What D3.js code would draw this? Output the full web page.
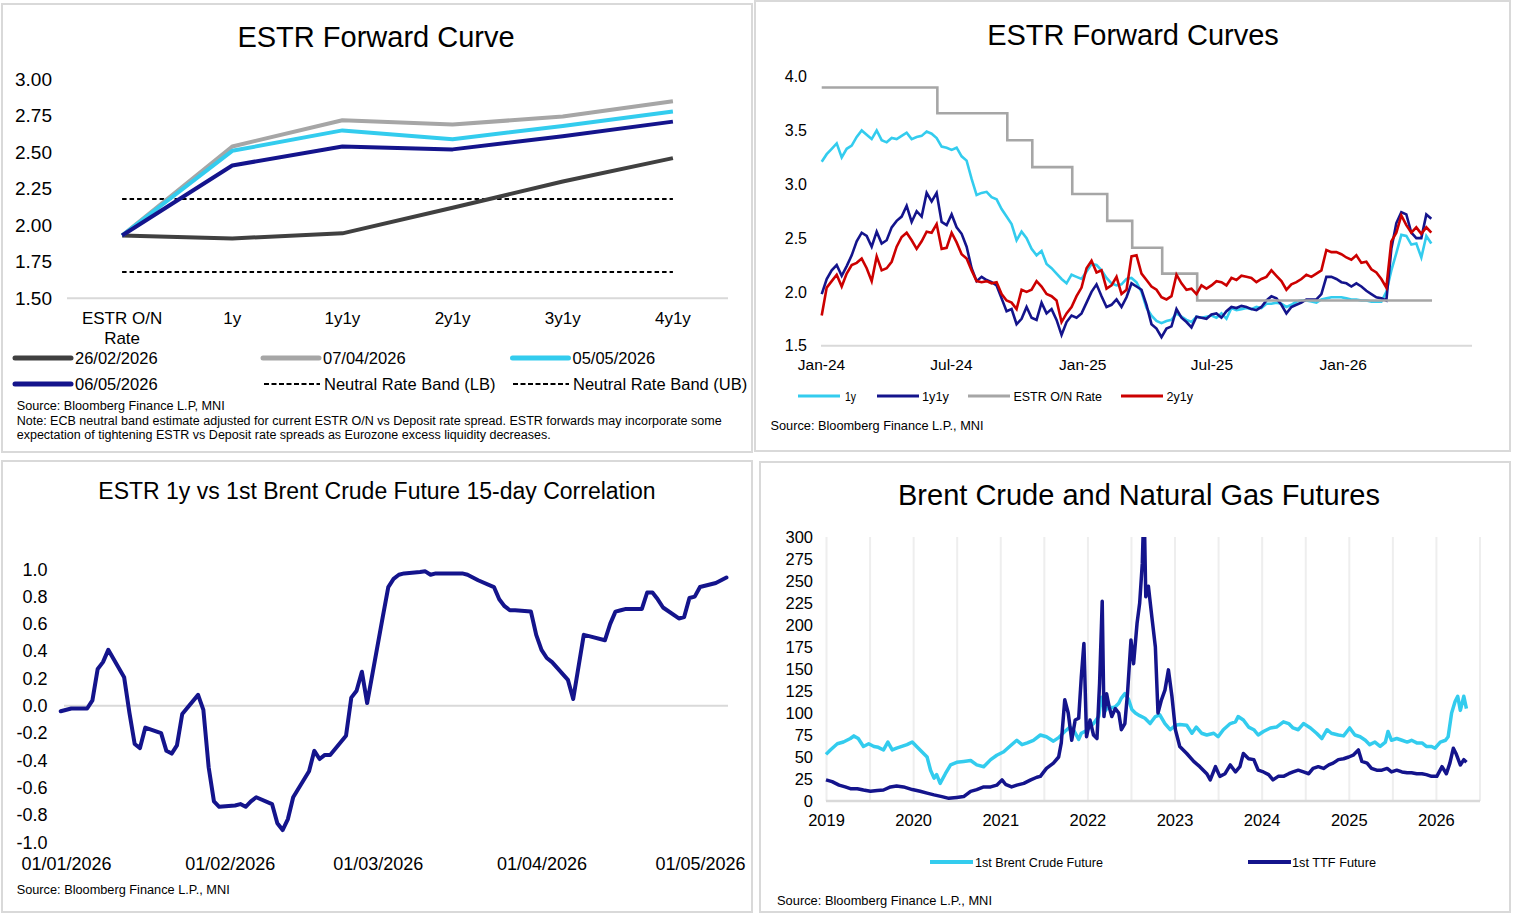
<!DOCTYPE html>
<html><head><meta charset="utf-8">
<script src="https://cdn.jsdelivr.net/npm/d3@7"></script>
<style>
body{margin:0;background:#fff}
svg text{font-family:"Liberation Sans",Arial,sans-serif;fill:#000}
.narrow{font-family:"Liberation Sans Narrow","Arial Narrow","Liberation Sans",Arial,sans-serif !important}
</style>
</head><body>
<svg id="c" width="1518" height="914"></svg>
<script>
// ---------------- DATA ----------------
// Panel 1: ESTR Forward Curve
const curveCats = ["ESTR O/N Rate","1y","1y1y","2y1y","3y1y","4y1y"];
const curve260226 = [1.93,1.91,1.945,2.12,2.30,2.46];
const curve070426 = [1.93,2.54,2.72,2.69,2.745,2.85];
const curve050526 = [1.93,2.51,2.65,2.59,2.68,2.78];
const curve060526 = [1.93,2.41,2.54,2.52,2.61,2.71];
const neutralLB = 1.68, neutralUB = 2.18;
const curveTicks = [1.5,1.75,2.0,2.25,2.5,2.75,3.0];

// Panel 2: ESTR Forward Curves (weekly observations from 2 Jan 2024)
const fwdStart = "2024-01-02";
const fwd1y = [3.21,3.28,3.33,3.38,3.25,3.33,3.36,3.44,3.50,3.46,
3.42,3.50,3.41,3.39,3.43,3.42,3.45,3.48,3.42,3.44,
3.45,3.49,3.47,3.43,3.35,3.34,3.32,3.34,3.26,3.22,
3.05,2.90,2.92,2.93,2.88,2.86,2.77,2.70,2.63,2.48,
2.56,2.50,2.40,2.34,2.38,2.26,2.22,2.17,2.12,2.08,
2.16,2.14,2.12,2.19,2.26,2.25,2.20,2.13,2.08,2.06,
2.07,2.12,2.13,2.09,2.00,1.85,1.78,1.73,1.71,1.73,
1.74,1.80,1.77,1.74,1.72,1.77,1.76,1.77,1.78,1.76,
1.80,1.75,1.85,1.83,1.84,1.85,1.84,1.86,1.85,1.89,
1.89,1.90,1.89,1.86,1.88,1.91,1.92,1.92,1.91,1.90,
1.93,1.94,1.95,1.95,1.95,1.94,1.93,1.93,1.92,1.92,
1.91,1.91,1.91,2.00,2.20,2.36,2.53,2.52,2.44,2.45,
2.32,2.52,2.45];
const fwd1y1y = [1.98,2.12,2.20,2.25,2.15,2.24,2.34,2.47,2.55,2.52,
2.42,2.56,2.45,2.48,2.60,2.66,2.70,2.80,2.65,2.75,
2.70,2.92,2.84,2.92,2.65,2.62,2.72,2.60,2.54,2.42,
2.22,2.10,2.14,2.11,2.09,2.06,1.94,1.82,1.84,1.70,
1.75,1.86,1.76,1.74,1.90,1.80,1.84,1.74,1.60,1.72,
1.78,1.76,1.80,1.90,2.00,2.07,1.96,1.86,1.88,1.93,
1.86,1.95,2.08,2.05,2.02,1.88,1.70,1.66,1.58,1.66,
1.68,1.84,1.76,1.72,1.67,1.77,1.76,1.75,1.79,1.80,
1.76,1.82,1.86,1.85,1.87,1.86,1.84,1.83,1.86,1.92,
1.96,1.94,1.88,1.80,1.86,1.88,1.90,1.93,1.93,1.93,
1.98,2.14,2.14,2.12,2.09,2.08,2.05,2.08,2.05,2.01,
1.98,1.95,1.94,1.92,2.40,2.64,2.74,2.72,2.55,2.50,
2.50,2.72,2.68];
const fwd2y1y = [1.78,2.04,2.10,2.16,2.05,2.17,2.25,2.27,2.31,2.22,
2.10,2.33,2.20,2.22,2.28,2.42,2.51,2.55,2.48,2.40,
2.47,2.56,2.55,2.63,2.40,2.41,2.55,2.46,2.35,2.31,
2.20,2.10,2.09,2.10,2.08,2.09,1.98,1.92,1.90,1.84,
2.02,2.00,2.02,2.10,2.05,1.98,1.96,1.92,1.72,1.80,
1.86,1.96,2.04,2.22,2.29,2.18,2.20,2.03,2.06,2.14,
1.98,2.02,2.33,2.34,2.17,2.11,2.05,2.02,1.95,1.93,
1.96,2.16,2.08,2.02,2.03,1.98,2.06,2.03,2.06,2.10,
2.09,2.06,2.13,2.11,2.15,2.14,2.13,2.09,2.12,2.14,
2.20,2.15,2.10,2.02,2.07,2.09,2.12,2.16,2.14,2.17,
2.20,2.39,2.37,2.37,2.35,2.32,2.30,2.34,2.27,2.28,
2.21,2.18,2.12,2.04,2.47,2.55,2.71,2.62,2.55,2.60,
2.54,2.60,2.55];
const estrON = [["2024-01-02",3.90],["2024-06-12",3.66],["2024-09-18",3.41],["2024-10-23",3.16],
["2024-12-18",2.91],["2025-02-05",2.66],["2025-03-12",2.41],["2025-04-23",2.17],
["2025-06-11",1.92],["2026-05-06",1.92]];
const fwdTicks = [1.5,2.0,2.5,3.0,3.5,4.0];
const fwdXTicks = ["2024-01-01","2024-07-01","2025-01-01","2025-07-01","2026-01-01"];

// Panel 3: ESTR 1y vs 1st Brent 15-day correlation
const corr = [["2025-12-31",-0.04],["2026-01-02",-0.02],["2026-01-05",-0.02],["2026-01-06",0.04],
["2026-01-07",0.27],["2026-01-08",0.32],["2026-01-09",0.41],["2026-01-12",0.21],["2026-01-13",-0.05],
["2026-01-14",-0.28],["2026-01-15",-0.31],["2026-01-16",-0.16],["2026-01-19",-0.20],["2026-01-20",-0.33],
["2026-01-21",-0.35],["2026-01-22",-0.29],["2026-01-23",-0.06],["2026-01-26",0.08],["2026-01-27",-0.03],
["2026-01-28",-0.45],["2026-01-29",-0.70],["2026-01-30",-0.74],["2026-02-02",-0.73],["2026-02-03",-0.72],
["2026-02-04",-0.74],["2026-02-05",-0.70],["2026-02-06",-0.67],["2026-02-09",-0.72],["2026-02-10",-0.86],
["2026-02-11",-0.91],["2026-02-12",-0.83],["2026-02-13",-0.67],["2026-02-16",-0.48],["2026-02-17",-0.33],
["2026-02-18",-0.39],["2026-02-19",-0.36],["2026-02-20",-0.36],["2026-02-23",-0.22],["2026-02-24",0.06],
["2026-02-25",0.11],["2026-02-26",0.25],["2026-02-27",0.02],["2026-03-02",0.66],["2026-03-03",0.87],
["2026-03-04",0.93],["2026-03-05",0.96],["2026-03-06",0.97],["2026-03-09",0.98],["2026-03-10",0.985],
["2026-03-11",0.96],["2026-03-12",0.97],["2026-03-13",0.97],["2026-03-16",0.97],["2026-03-17",0.97],
["2026-03-18",0.96],["2026-03-19",0.94],["2026-03-20",0.92],["2026-03-23",0.87],["2026-03-24",0.78],
["2026-03-25",0.73],["2026-03-26",0.70],["2026-03-27",0.70],["2026-03-30",0.69],["2026-03-31",0.52],
["2026-04-01",0.41],["2026-04-02",0.35],["2026-04-03",0.32],["2026-04-06",0.19],["2026-04-07",0.05],
["2026-04-09",0.52],["2026-04-10",0.51],["2026-04-13",0.48],["2026-04-14",0.60],["2026-04-15",0.69],
["2026-04-16",0.70],["2026-04-17",0.71],["2026-04-20",0.71],["2026-04-21",0.83],["2026-04-22",0.83],
["2026-04-23",0.78],["2026-04-24",0.72],["2026-04-27",0.64],["2026-04-28",0.65],["2026-04-29",0.79],
["2026-04-30",0.80],["2026-05-01",0.87],["2026-05-04",0.90],["2026-05-05",0.92],["2026-05-06",0.94]];
const corrTicks = [-1.0,-0.8,-0.6,-0.4,-0.2,0.0,0.2,0.4,0.6,0.8,1.0];
const corrXTicks = ["2026-01-01","2026-02-01","2026-03-01","2026-04-01","2026-05-01"];

// Panel 4: Brent & TTF (decimal year, price)
const brent = [[2019.00,53],[2019.05,58],[2019.13,65],[2019.20,67],[2019.28,71],[2019.32,74],[2019.37,71],
[2019.43,62],[2019.49,65],[2019.55,62],[2019.60,61],[2019.66,58],[2019.71,67],[2019.76,58],[2019.81,60],
[2019.87,62],[2019.93,64],[2019.99,67],[2020.04,62],[2020.10,56],[2020.16,50],[2020.20,35],[2020.24,26],
[2020.27,30],[2020.31,20],[2020.37,31],[2020.43,41],[2020.50,44],[2020.58,45],[2020.66,46],[2020.73,41],
[2020.81,39],[2020.89,47],[2020.96,52],[2021.04,56],[2021.12,63],[2021.19,69],[2021.25,64],[2021.31,66],
[2021.38,69],[2021.46,75],[2021.53,73],[2021.61,68],[2021.67,72],[2021.74,79],[2021.80,84],[2021.84,81],
[2021.90,70],[2021.93,77],[2021.99,80],[2022.07,88],[2022.13,96],[2022.16,118],[2022.20,102],[2022.24,107],
[2022.28,106],[2022.32,107],[2022.36,111],[2022.39,117],[2022.43,122],[2022.47,116],[2022.51,104],
[2022.55,100],[2022.60,97],[2022.66,94],[2022.72,88],[2022.78,96],[2022.83,98],[2022.89,88],[2022.95,81],
[2023.01,86],[2023.06,87],[2023.14,86],[2023.20,77],[2023.25,84],[2023.31,77],[2023.37,75],[2023.45,77],
[2023.50,73],[2023.56,81],[2023.64,88],[2023.70,90],[2023.73,96],[2023.79,92],[2023.85,84],[2023.91,81],
[2023.96,75],[2024.02,79],[2024.10,83],[2024.17,84],[2024.25,90],[2024.31,88],[2024.36,83],[2024.42,81],
[2024.48,88],[2024.56,83],[2024.63,77],[2024.69,71],[2024.75,81],[2024.80,77],[2024.88,75],[2024.94,74],
[2025.01,83],[2025.07,75],[2025.13,73],[2025.19,69],[2025.24,64],[2025.30,67],[2025.36,62],[2025.42,67],
[2025.45,79],[2025.49,69],[2025.55,71],[2025.61,69],[2025.67,67],[2025.72,69],[2025.78,66],[2025.84,66],
[2025.89,62],[2025.95,62],[2025.99,60],[2026.05,67],[2026.11,69],[2026.14,73],[2026.18,100],[2026.22,113],
[2026.25,119],[2026.28,103],[2026.32,119],[2026.35,105]];
const ttf = [[2019.00,24],[2019.07,22],[2019.15,18],[2019.22,16],[2019.28,14],[2019.36,14],[2019.43,12.5],
[2019.51,11],[2019.59,12],[2019.66,12.5],[2019.74,16],[2019.81,17],[2019.89,16],[2019.99,13],[2020.08,11],
[2020.16,9],[2020.24,7],[2020.33,5],[2020.41,3],[2020.50,4],[2020.58,5],[2020.66,11],[2020.73,13],
[2020.81,16],[2020.89,16],[2020.96,18],[2021.02,24],[2021.06,19],[2021.13,16],[2021.19,18],[2021.27,20],
[2021.35,24],[2021.42,27],[2021.46,28],[2021.53,37],[2021.61,43],[2021.67,50],[2021.70,66],[2021.74,115],
[2021.78,100],[2021.82,69],[2021.86,92],[2021.90,94],[2021.93,141],[2021.96,179],[2021.99,73],[2022.03,92],
[2022.07,75],[2022.11,71],[2022.14,134],[2022.17,227],[2022.19,96],[2022.22,122],[2022.25,107],[2022.28,96],
[2022.32,105],[2022.36,100],[2022.39,81],[2022.43,88],[2022.46,122],[2022.50,183],[2022.53,156],
[2022.57,202],[2022.60,225],[2022.63,270],[2022.65,340],[2022.67,232],[2022.70,244],[2022.74,209],
[2022.78,175],[2022.81,100],[2022.85,115],[2022.89,126],[2022.93,149],[2022.97,119],[2023.01,81],
[2023.06,62],[2023.14,54],[2023.22,45],[2023.29,39],[2023.37,31],[2023.41,24],[2023.47,39],[2023.52,28],
[2023.58,31],[2023.64,41],[2023.70,33],[2023.75,39],[2023.79,54],[2023.85,48],[2023.91,47],[2023.96,35],
[2024.02,33],[2024.08,30],[2024.13,24],[2024.19,28],[2024.25,28],[2024.31,31],[2024.36,33],[2024.42,35],
[2024.48,33],[2024.54,31],[2024.59,37],[2024.65,39],[2024.71,37],[2024.77,41],[2024.82,43],[2024.88,47],
[2024.94,48],[2025.00,50],[2025.05,52],[2025.11,58],[2025.15,45],[2025.21,43],[2025.26,37],[2025.32,35],
[2025.38,35],[2025.44,37],[2025.49,33],[2025.55,35],[2025.61,33],[2025.67,32],[2025.72,32],[2025.78,31],
[2025.84,31],[2025.89,30],[2025.95,28],[2026.01,28],[2026.07,39],[2026.12,31],[2026.16,43],[2026.20,60],
[2026.23,54],[2026.28,41],[2026.32,47],[2026.35,44]];
const priceTicks = [0,25,50,75,100,125,150,175,200,225,250,275,300];
const yearTicks = [2019,2020,2021,2022,2023,2024,2025,2026];

// ---------------- STYLE ----------------
const C = {dark:"#404040", grey:"#a6a6a6", cyan:"#33ccee", navy:"#14148c", red:"#cc0000", axis:"#d9d9d9", grid:"#eeeeee"};
const svg = d3.select("#c");
const parse = d3.timeParse("%Y-%m-%d");

function txt(x, y, s, size, o = {}) {
  const t = svg.append("text").attr("x", x).attr("y", y).attr("dy", "0.35em")
    .attr("font-size", size).attr("text-anchor", o.anchor || "start").text(s);
  if (o.len) t.attr("textLength", o.len).attr("lengthAdjust", "spacingAndGlyphs");
  if (o.cls) t.attr("class", o.cls);
  return t;
}
function styleAxis(g, size) {
  g.select(".domain").remove();
  g.selectAll("text").attr("font-size", size).attr("fill", "#000");
}

// panel frames
[[2,4,750,448],[755,1,755,450],[2,461,750,451],[760,462,750,450]].forEach(r =>
  svg.append("rect").attr("x", r[0]).attr("y", r[1]).attr("width", r[2]).attr("height", r[3])
    .attr("fill", "none").attr("stroke", C.axis).attr("stroke-width", 2));

// ================= PANEL 1 =================
txt(376, 37, "ESTR Forward Curve", 29, {anchor: "middle"});
const x1 = d3.scaleBand().domain(curveCats).range([67, 728]);
const y1 = d3.scaleLinear().domain([1.5, 3.0]).range([298.3, 79.3]);
svg.append("g").attr("transform", "translate(60,0)")
  .call(d3.axisLeft(y1).tickValues(curveTicks).tickFormat(d => d.toFixed(2)).tickSize(0).tickPadding(8))
  .call(g => styleAxis(g, 19));
svg.append("line").attr("x1", 67).attr("x2", 728).attr("y1", y1(1.5)).attr("y2", y1(1.5))
  .attr("stroke", C.axis).attr("stroke-width", 2);
const gx1 = svg.append("g").attr("transform", `translate(0,${y1(1.5)})`)
  .call(d3.axisBottom(x1).tickSize(0).tickPadding(0)).call(g => styleAxis(g, 17));
gx1.selectAll("text").each(function(d) {
  const t = d3.select(this).text(null).attr("y", 0).attr("dy", null);
  const parts = d === "ESTR O/N Rate" ? ["ESTR O/N", "Rate"] : [d];
  parts.forEach((p, i) => t.append("tspan").attr("x", 0).attr("y", 20 + i * 20).attr("dy", "0.35em").text(p));
});
const cx = d => x1(d) + x1.bandwidth() / 2;
[[neutralLB], [neutralUB]].forEach(([v]) =>
  svg.append("line").attr("x1", cx(curveCats[0])).attr("x2", cx(curveCats[5]))
    .attr("y1", y1(v)).attr("y2", y1(v)).attr("stroke", "#000").attr("stroke-width", 1.8)
    .attr("stroke-dasharray", "4.5,3"));
const line1 = d3.line().x((d, i) => cx(curveCats[i])).y(d => y1(d));
[[curve260226, C.dark], [curve070426, C.grey], [curve050526, C.cyan], [curve060526, C.navy]].forEach(([s, c]) =>
  svg.append("path").attr("d", line1(s)).attr("fill", "none").attr("stroke", c)
    .attr("stroke-width", 4).attr("stroke-linejoin", "round"));
// legend
[["26/02/2026", C.dark, 15, 358, false], ["07/04/2026", C.grey, 263, 358, false], ["05/05/2026", C.cyan, 512.5, 358, false],
 ["06/05/2026", C.navy, 15, 384, false], ["Neutral Rate Band (LB)", "#000", 264, 384, true], ["Neutral Rate Band (UB)", "#000", 513, 384, true]]
.forEach(([lab, c, x, y, dash]) => {
  const l = svg.append("line").attr("x1", x).attr("x2", x + 56).attr("y1", y).attr("y2", y).attr("stroke", c);
  if (dash) l.attr("stroke-width", 1.8).attr("stroke-dasharray", "5,2.5");
  else l.attr("stroke-width", 5).attr("stroke-linecap", "round");
  txt(x + 60, y, lab, 16.5);
});
txt(16.7, 406, "Source: Bloomberg Finance L.P, MNI", 12, {len: 208, cls: "narrow"});
txt(16.7, 420.5, "Note: ECB neutral band estimate adjusted for current ESTR O/N vs Deposit rate spread. ESTR forwards may incorporate some", 12, {len: 705, cls: "narrow"});
txt(16.7, 434.5, "expectation of tightening ESTR vs Deposit rate spreads as Eurozone excess liquidity decreases.", 12, {len: 534, cls: "narrow"});

// ================= PANEL 2 =================
txt(1133, 35, "ESTR Forward Curves", 29, {anchor: "middle"});
const x2 = d3.scaleTime().domain([parse("2024-01-01"), parse("2026-07-01")]).range([821, 1472]);
const y2 = d3.scaleLinear().domain([1.5, 4.0]).range([345.7, 76.7]);
svg.append("g").attr("transform", "translate(816,0)")
  .call(d3.axisLeft(y2).tickValues(fwdTicks).tickFormat(d => d.toFixed(1)).tickSize(0).tickPadding(9))
  .call(g => styleAxis(g, 16));
svg.append("line").attr("x1", 821).attr("x2", 1472).attr("y1", y2(1.5)).attr("y2", y2(1.5))
  .attr("stroke", C.axis).attr("stroke-width", 2);
svg.append("g").attr("transform", `translate(0,${y2(1.5)})`)
  .call(d3.axisBottom(x2).tickValues(fwdXTicks.map(parse)).tickFormat(d3.timeFormat("%b-%y")).tickSize(0).tickPadding(13))
  .call(g => styleAxis(g, 15.5));
const weeks = fwd1y.map((_, k) => d3.timeDay.offset(parse(fwdStart), 7 * k));
const line2 = d3.line().x((d, i) => x2(weeks[i])).y(d => y2(d));
svg.append("path").attr("d", line2(fwd1y)).attr("fill", "none").attr("stroke", C.cyan).attr("stroke-width", 2.6);
svg.append("path").attr("d", line2(fwd1y1y)).attr("fill", "none").attr("stroke", C.navy).attr("stroke-width", 2.6);
svg.append("path").attr("d", d3.line().curve(d3.curveStepAfter).x(d => x2(parse(d[0]))).y(d => y2(d[1]))(estrON))
  .attr("fill", "none").attr("stroke", C.grey).attr("stroke-width", 2.6);
svg.append("path").attr("d", line2(fwd2y1y)).attr("fill", "none").attr("stroke", C.red).attr("stroke-width", 2.6);
[["1y", C.cyan, 798, 845, 11], ["1y1y", C.navy, 877, 922, 27], ["ESTR O/N Rate", C.grey, 968, 1013.5, 88.5], ["2y1y", C.red, 1121, 1166.5, 26.5]]
.forEach(([lab, c, lx, tx, w]) => {
  svg.append("line").attr("x1", lx).attr("x2", lx + 42).attr("y1", 396).attr("y2", 396).attr("stroke", c).attr("stroke-width", 3);
  txt(tx, 396, lab, 13.5, {len: w, cls: "narrow"});
});
txt(770.5, 425, "Source: Bloomberg Finance L.P., MNI", 13, {len: 213, cls: "narrow"});

// ================= PANEL 3 =================
txt(377, 491, "ESTR 1y vs 1st Brent Crude Future 15-day Correlation", 23, {anchor: "middle"});
const x3 = d3.scaleTime().domain([parse("2026-01-01"), parse("2026-05-01")]).range([66, 700]);
const y3 = d3.scaleLinear().domain([-1, 1]).range([842.3, 569.3]);
svg.append("g").attr("transform", "translate(56,0)")
  .call(d3.axisLeft(y3).tickValues(corrTicks).tickFormat(d => d.toFixed(1)).tickSize(0).tickPadding(8.5))
  .call(g => styleAxis(g, 18));
svg.append("line").attr("x1", 64).attr("x2", 728).attr("y1", y3(0)).attr("y2", y3(0))
  .attr("stroke", C.axis).attr("stroke-width", 2);
svg.append("g").attr("transform", `translate(0,${y3(-1)})`)
  .call(d3.axisBottom(x3).tickValues(corrXTicks.map(parse)).tickFormat(d3.timeFormat("%d/%m/%Y")).tickSize(0).tickPadding(15))
  .call(g => styleAxis(g, 18));
svg.append("path").attr("d", d3.line().x(d => x3(parse(d[0]))).y(d => y3(d[1]))(corr))
  .attr("fill", "none").attr("stroke", C.navy).attr("stroke-width", 4).attr("stroke-linejoin", "round").attr("stroke-linecap", "round");
txt(16.7, 890, "Source: Bloomberg Finance L.P., MNI", 12.5, {len: 213, cls: "narrow"});

// ================= PANEL 4 =================
txt(1139, 495, "Brent Crude and Natural Gas Futures", 29, {anchor: "middle"});
const x4 = d3.scaleLinear().domain([2019, 2026.5]).range([826, 1479.5]);
const y4 = d3.scaleLinear().domain([0, 300]).range([801, 537]);
svg.append("g").attr("transform", `translate(0,${y4(0)})`)
  .call(d3.axisBottom(x4).tickValues(d3.range(2019, 2026.51, 0.5)).tickFormat("").tickSize(-(y4(0) - y4(300))))
  .call(g => { g.select(".domain").remove(); g.selectAll("line").attr("stroke", C.grid).attr("stroke-width", 2); });
svg.append("line").attr("x1", 826).attr("x2", 1480).attr("y1", y4(0)).attr("y2", y4(0))
  .attr("stroke", C.axis).attr("stroke-width", 2.5);
svg.append("g").attr("transform", "translate(821,0)")
  .call(d3.axisLeft(y4).tickValues(priceTicks).tickFormat(d3.format("d")).tickSize(0).tickPadding(8))
  .call(g => styleAxis(g, 16.5));
svg.append("g").attr("transform", `translate(0,${y4(0)})`)
  .call(d3.axisBottom(x4).tickValues(yearTicks).tickFormat(d3.format("d")).tickSize(0).tickPadding(13))
  .call(g => styleAxis(g, 16.5));
svg.append("clipPath").attr("id", "clip4").append("rect").attr("x", 820).attr("y", y4(300)).attr("width", 670).attr("height", y4(0) - y4(300));
const line4 = d3.line().x(d => x4(d[0])).y(d => y4(d[1]));
svg.append("path").attr("clip-path", "url(#clip4)").attr("d", line4(brent)).attr("fill", "none")
  .attr("stroke", C.cyan).attr("stroke-width", 3.5).attr("stroke-linejoin", "round");
svg.append("path").attr("clip-path", "url(#clip4)").attr("d", line4(ttf)).attr("fill", "none")
  .attr("stroke", C.navy).attr("stroke-width", 3.5).attr("stroke-linejoin", "round");
[["1st Brent Crude Future", C.cyan, 930, 975, 128], ["1st TTF Future", C.navy, 1248, 1292, 84]].forEach(([lab, c, lx, tx, w]) => {
  svg.append("line").attr("x1", lx).attr("x2", lx + 43).attr("y1", 862).attr("y2", 862).attr("stroke", c).attr("stroke-width", 4);
  txt(tx, 862, lab, 13.5, {len: w, cls: "narrow"});
});
txt(777, 900, "Source:  Bloomberg Finance L.P., MNI", 13, {len: 215, cls: "narrow"});
</script>
</body></html>
